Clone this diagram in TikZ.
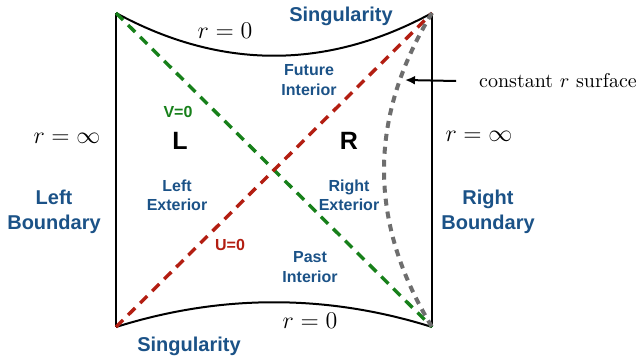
\documentclass[tikz,border=0pt]{standalone}
\usepackage{fontspec}
\newfontfamily\labelfont{Liberation Sans}
\usetikzlibrary{arrows.meta}
\definecolor{BoundBlue}{HTML}{1B5287}
\definecolor{HorizonGreen}{HTML}{17801A}
\definecolor{HorizonRed}{HTML}{B31E12}
\definecolor{SurfaceGrey}{HTML}{6E6E6E}

\begin{document}
\begin{tikzpicture}[x=0.5pt, y=-0.5pt,
    edge/.style={line width=1pt, black},
    horizon/.style={line width=1.7pt, dash pattern=on 5pt off 3.5pt},
    region/.style={text=BoundBlue, font=\labelfont\bfseries\fontsize{8}{9.6}\selectfont, align=center},
    bigname/.style={text=BoundBlue, font=\labelfont\bfseries\fontsize{10}{12.5}\selectfont, align=center},
    wedge/.style={font=\labelfont\bfseries\fontsize{12.5}{14}\selectfont},
    mathlabel/.style={font=\fontsize{12}{14}\selectfont}]
    \useasboundingbox (0,0) rectangle (640,358);

    % corners of the diagram
    \coordinate (tl) at (116,13);
    \coordinate (tr) at (432,13);
    \coordinate (bl) at (116,327);
    \coordinate (br) at (432,327);

    % boundaries and singularities
    \draw[edge] (tl) -- (bl);
    \draw[edge] (tr) -- (br);
    \draw[edge] (tl) .. controls (221,70) and (327,70) .. (tr);
    \draw[edge] (bl) .. controls (221,294) and (327,294) .. (br);

    % horizons
    \draw[horizon, HorizonGreen] (tl) -- (br);
    \draw[horizon, HorizonRed] (bl) -- (tr);

    % constant r surface
    \draw[line width=2pt, SurfaceGrey, dash pattern=on 3.5pt off 3pt] (tr) .. controls (368,118) and (368,222) .. (br);
    \coordinate (arrowtip) at (405,80);
    \node[font=\fontsize{10}{12}\selectfont] (surflabel) at (558,81) {constant $r$ surface};
    \draw[-{Latex[length=5pt, width=4.5pt]}, line width=1pt] ([xshift=-8pt]surflabel.west) -- (arrowtip);

    % labels
    \node[mathlabel] (rtop) at (225,31) {$r=0$};
    \node[mathlabel] (rbot) at (310,321) {$r=0$};
    \node[mathlabel] (rleft) at (67,138) {$r=\infty$};
    \node[mathlabel] (rright) at (479,136) {$r=\infty$};

    \node[bigname] (singtop) at (341,16) {Singularity};
    \node[bigname] (singbot) at (189,346) {Singularity};
    \node[bigname] (leftbd) at (54,212) {Left\\Boundary};
    \node[bigname] (rightbd) at (488,212) {Right\\Boundary};

    \node[region] (future) at (309,80) {Future\\Interior};
    \node[region] (past) at (310,267) {Past\\Interior};
    \node[region] (leftext) at (177,195) {Left\\Exterior};
    \node[region] (rightext) at (349,195) {Right\\Exterior};

    \node[wedge] (lwedge) at (180,141) {L};
    \node[wedge] (rwedge) at (349,141) {R};

    \node[region, text=HorizonGreen] (vzero) at (178,112) {V=0};
    \node[region, text=HorizonRed] (uzero) at (230,245) {U=0};
  \end{tikzpicture}
\end{document}
